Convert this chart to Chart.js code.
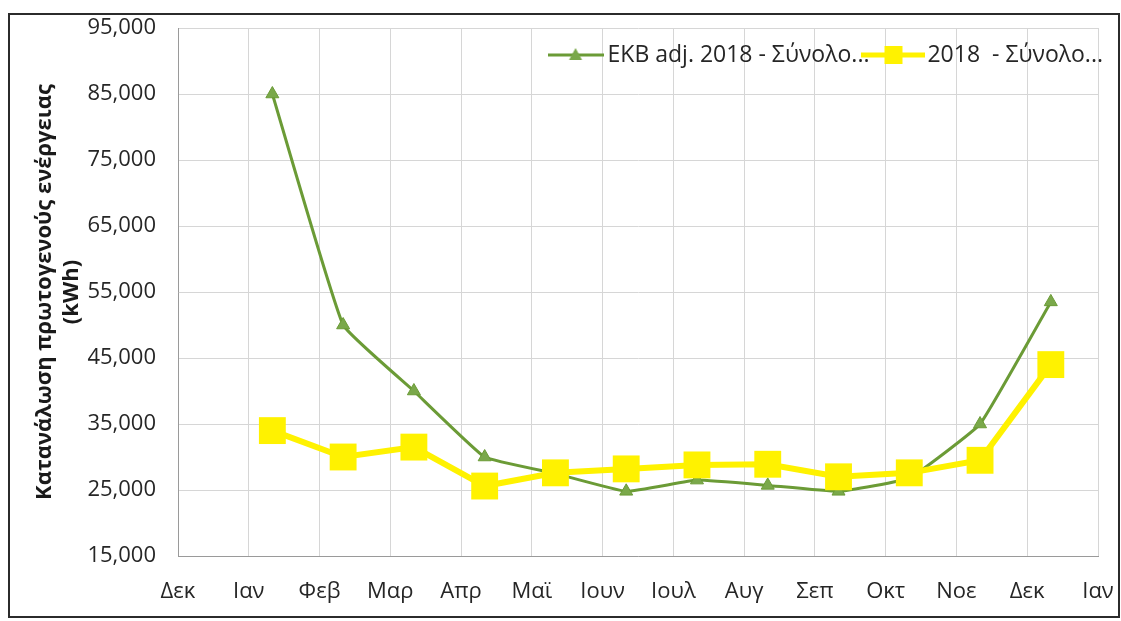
<!DOCTYPE html>
<html>
<head>
<meta charset="utf-8">
<title>Κατανάλωση πρωτογενούς ενέργειας</title>
<script src="https://cdn.jsdelivr.net/npm/chart.js@4.4.0/dist/chart.umd.min.js"></script>
<style>
    html, body { margin: 0; padding: 0; background: #fff; }
    #lineChart { display: block; }
</style>
</head>
<body>
<canvas id="lineChart" width="1121" height="621"></canvas>
<script>
// Etiquetas del eje x (un tick por mes, de Δεκ a Ιαν)
const monthLabels = ['Δεκ', 'Ιαν', 'Φεβ', 'Μαρ', 'Απρ', 'Μαϊ', 'Ιουν', 'Ιουλ', 'Αυγ', 'Σεπ', 'Οκτ', 'Νοε', 'Δεκ', 'Ιαν'];
// Los puntos caen hacia el día 11 de cada mes
const pointDay = 11;
const monthIndex = [1, 2, 3, 4, 5, 6, 7, 8, 9, 10, 11, 12];

const ekbValues = [85000, 50000, 40000, 30000, 27500, 24800, 26500, 25700, 24800, 26800, 35000, 53500];
const values2018 = [34000, 30000, 31500, 25600, 27600, 28200, 28800, 28900, 27000, 27600, 29500, 44000];

const seriesLabels = ['ΕΚΒ adj. 2018 - Σύνολο...', '2018  - Σύνολο...'];
const yMin = 15000;
const yMax = 95000;
const yStep = 10000;

const green = '#6b9b36';
const greenMarker = '#7aa84a';
const yellow = '#fff200';
const fontFamily = "'Open Sans', 'Noto Sans', sans-serif";

function toPoints(values) {
    return values.map((v, i) => ({ x: monthIndex[i] + (pointDay - 1) / 30, y: v }));
}

// Iconos de leyenda: línea con marcador, como en Excel
function makeIcon(width, height, lineColor, lineWidth, draw) {
    const c = document.createElement('canvas');
    c.width = width;
    c.height = height;
    const g = c.getContext('2d');
    g.strokeStyle = lineColor;
    g.lineWidth = lineWidth;
    g.beginPath();
    g.moveTo(0, height / 2);
    g.lineTo(width, height / 2);
    g.stroke();
    draw(g, width / 2, height / 2);
    return c;
}

const legendIcons = [
    makeIcon(56, 20, green, 3, (g, x, y) => {
        g.fillStyle = greenMarker;
        g.beginPath();
        g.moveTo(x, y - 7);
        g.lineTo(x + 6.5, y + 5);
        g.lineTo(x - 6.5, y + 5);
        g.closePath();
        g.fill();
    }),
    makeIcon(64, 24, yellow, 5, (g, x, y) => {
        g.fillStyle = yellow;
        g.fillRect(x - 9, y - 9, 18, 18);
    })
];

// Leyenda dentro del área del gráfico (arriba a la derecha)
const insideLegend = {
    id: 'insideLegend',
    afterDatasetsDraw(chart) {
        const c = chart.ctx;
        const area = chart.chartArea;
        c.save();
        c.font = '23px ' + fontFamily;
        c.fillStyle = '#262626';
        c.textBaseline = 'middle';
        c.textAlign = 'left';
        const gaps = [[4, -8], [2, 0]];
        let total = 0;
        seriesLabels.forEach((label, i) => {
            total += legendIcons[i].width + gaps[i][0] + c.measureText(label).width + gaps[i][1];
        });
        let x = area.right + 5 - total;
        const y = area.top + 27;
        seriesLabels.forEach((label, i) => {
            const icon = legendIcons[i];
            c.drawImage(icon, x, y - icon.height / 2);
            x += icon.width + gaps[i][0];
            c.fillText(label, x, y);
            x += c.measureText(label).width + gaps[i][1];
        });
        c.restore();
    }
};

const frame = {
    id: 'frame',
    beforeDraw(chart) {
        const c = chart.ctx;
        c.save();
        c.fillStyle = '#fff';
        c.fillRect(0, 0, chart.width, chart.height);
        c.restore();
    },
    afterDraw(chart) {
        const c = chart.ctx;
        c.save();
        c.strokeStyle = '#2b2b2b';
        c.lineWidth = 2;
        c.strokeRect(9, 14, 1110, 603);
        c.restore();
    }
};

const ctx = document.getElementById('lineChart').getContext('2d');
new Chart(ctx, {
    type: 'line',
    data: {
        datasets: [
            {
                label: seriesLabels[0],
                data: toPoints(ekbValues),
                borderColor: green,
                borderWidth: 3,
                tension: 0.1,
                pointStyle: 'triangle',
                pointRadius: 7.5,
                pointBackgroundColor: greenMarker,
                pointBorderColor: green,
                pointBorderWidth: 1,
                order: 1
            },
            {
                label: seriesLabels[1],
                data: toPoints(values2018),
                borderColor: yellow,
                borderWidth: 6,
                tension: 0,
                pointStyle: 'rect',
                pointRadius: 19,
                pointBackgroundColor: yellow,
                pointBorderColor: yellow,
                pointBorderWidth: 0,
                order: 0
            }
        ]
    },
    options: {
        responsive: false,
        animation: false,
        layout: { padding: { top: 28, right: 23, bottom: 0, left: 20 } },
        plugins: {
            tooltip: { enabled: false },
            legend: { display: false }
        },
        scales: {
            x: {
                type: 'linear',
                min: 0,
                max: monthLabels.length - 1,
                afterFit(scale) {
                    scale.height = 65;
                    scale.paddingLeft = 0;
                    scale.paddingRight = 18;
                },
                grid: { color: '#d6d6d6', drawTicks: false },
                border: { color: '#9a9a9a' },
                ticks: {
                    stepSize: 1,
                    autoSkip: false,
                    maxRotation: 0,
                    padding: 23,
                    color: '#262626',
                    font: { family: fontFamily, size: 22 },
                    callback: (value) => monthLabels[value]
                }
            },
            y: {
                min: yMin,
                max: yMax,
                afterFit(scale) {
                    scale.width = 158;
                    scale.paddingTop = 13;
                    scale.paddingBottom = 0;
                },
                grid: { color: '#d6d6d6', drawTicks: false },
                border: { color: '#9a9a9a' },
                ticks: {
                    stepSize: yStep,
                    padding: 22,
                    color: '#262626',
                    font: { family: fontFamily, size: 22 },
                    callback: (value) => value.toLocaleString('en-US')
                },
                title: {
                    display: true,
                    text: ['Κατανάλωση πρωτογενούς ενέργειας', '(kWh)'],
                    color: '#1a1a1a',
                    padding: { top: 12, bottom: 0 },
                    font: { family: fontFamily, size: 22, weight: 'bold', lineHeight: 1.2 }
                }
            }
        }
    },
    plugins: [frame, insideLegend]
});
</script>
</body>
</html>
